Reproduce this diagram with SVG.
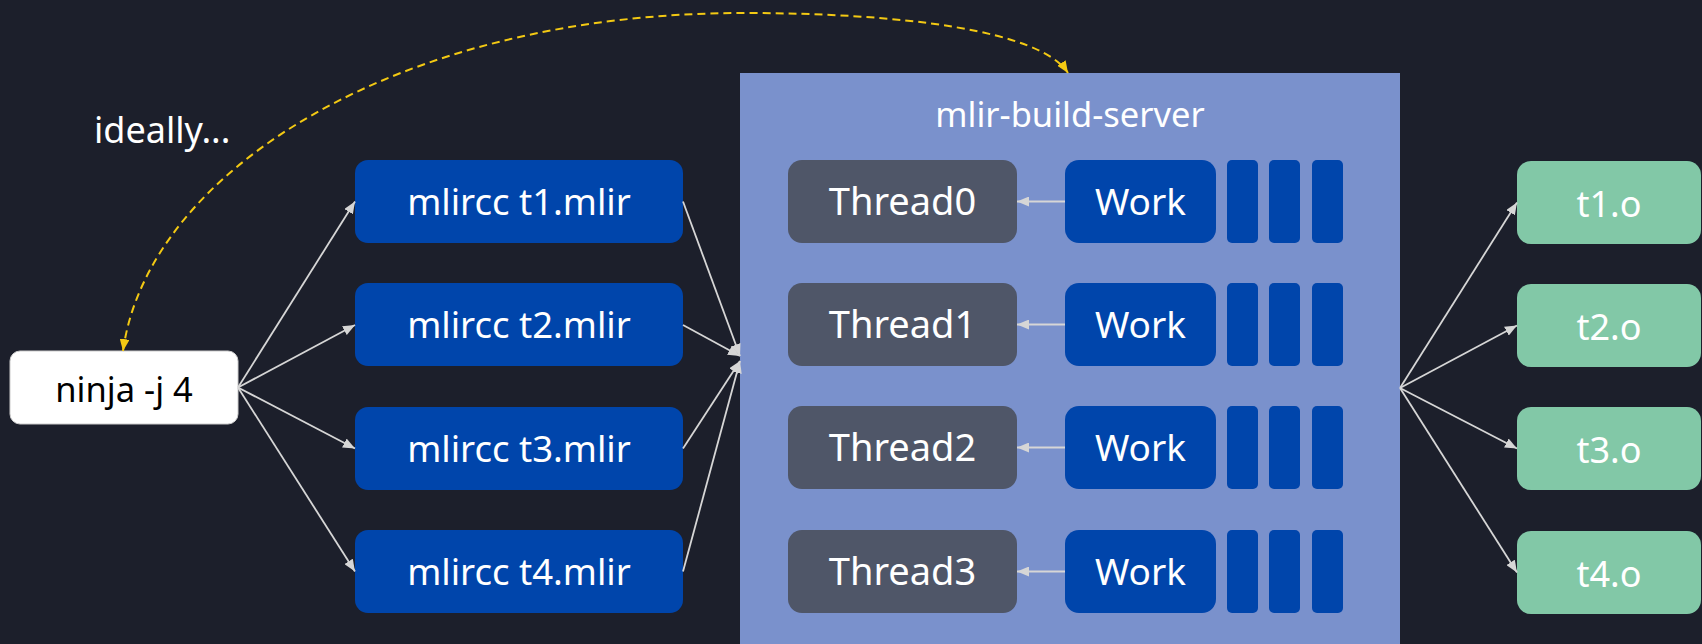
<svg xmlns="http://www.w3.org/2000/svg" width="1702" height="644" viewBox="0 0 1702 644">
<style>
text{font-family:"Noto Sans","Liberation Sans",sans-serif;fill:#ffffff;text-anchor:middle}
.blue{fill:#0045ab}
.thr{fill:#4f5668}
.grn{fill:#82c8a7}
.lnk{stroke:#d6d6d6;stroke-width:1.8;fill:none;marker-end:url(#ah)}
.dash{stroke:#f3c913;stroke-width:2;fill:none;stroke-dasharray:8 5;marker-start:url(#ay);marker-end:url(#ay)}
.m{font-size:36.5px}
.t{font-size:38px}
.w{font-size:37px}
.o{font-size:36px}
</style>
<defs>
<marker id="ah" viewBox="0 0 12 10" refX="12" refY="5" markerWidth="12" markerHeight="10" markerUnits="userSpaceOnUse" orient="auto"><path d="M0,0L12,5L0,10z" fill="#d6d6d6"/></marker>
<marker id="ay" viewBox="0 0 12 10" refX="12" refY="5" markerWidth="12" markerHeight="10" markerUnits="userSpaceOnUse" orient="auto-start-reverse"><path d="M0,0L12,5L0,10z" fill="#f3c913"/></marker>
</defs>
<rect width="1702" height="644" fill="#1c1f2b"/>
<g id="server">
<rect x="740" y="73" width="660" height="575" fill="#7a91cc"/>
<text x="1070" y="127" style="font-size:34.5px">mlir-build-server</text>
</g>
<text id="ideally" x="94" y="143" style="font-size:36px;text-anchor:start">ideally...</text>
<g id="ninja">
<rect x="10" y="351" width="228" height="73" rx="10" fill="#ffffff" stroke="#cccccc" stroke-width="1"/>
<text x="124" y="402" style="font-size:34.5px;fill:#000000">ninja -j 4</text>
</g>
<g id="mlircc1"><rect class="blue" x="355" y="160" width="328" height="83" rx="13"/><text class="m" x="519" y="215">mlircc t1.mlir</text></g>
<g id="mlircc2"><rect class="blue" x="355" y="283" width="328" height="83" rx="13"/><text class="m" x="519" y="338">mlircc t2.mlir</text></g>
<g id="mlircc3"><rect class="blue" x="355" y="407" width="328" height="83" rx="13"/><text class="m" x="519" y="462">mlircc t3.mlir</text></g>
<g id="mlircc4"><rect class="blue" x="355" y="530" width="328" height="83" rx="13"/><text class="m" x="519" y="585">mlircc t4.mlir</text></g>
<g id="thread0"><rect class="thr" x="788" y="160" width="229" height="83" rx="14"/><text class="t" x="902.5" y="215">Thread0</text></g>
<g id="thread1"><rect class="thr" x="788" y="283" width="229" height="83" rx="14"/><text class="t" x="902.5" y="338">Thread1</text></g>
<g id="thread2"><rect class="thr" x="788" y="406" width="229" height="83" rx="14"/><text class="t" x="902.5" y="461">Thread2</text></g>
<g id="thread3"><rect class="thr" x="788" y="530" width="229" height="83" rx="14"/><text class="t" x="902.5" y="585">Thread3</text></g>
<g id="work0"><rect class="blue" x="1065" y="160" width="151" height="83" rx="14"/><text class="w" x="1140.5" y="215">Work</text>
<rect class="blue" x="1227" y="160" width="31" height="83" rx="5"/><rect class="blue" x="1269" y="160" width="31" height="83" rx="5"/><rect class="blue" x="1312" y="160" width="31" height="83" rx="5"/></g>
<g id="work1"><rect class="blue" x="1065" y="283" width="151" height="83" rx="14"/><text class="w" x="1140.5" y="338">Work</text>
<rect class="blue" x="1227" y="283" width="31" height="83" rx="5"/><rect class="blue" x="1269" y="283" width="31" height="83" rx="5"/><rect class="blue" x="1312" y="283" width="31" height="83" rx="5"/></g>
<g id="work2"><rect class="blue" x="1065" y="406" width="151" height="83" rx="14"/><text class="w" x="1140.5" y="461">Work</text>
<rect class="blue" x="1227" y="406" width="31" height="83" rx="5"/><rect class="blue" x="1269" y="406" width="31" height="83" rx="5"/><rect class="blue" x="1312" y="406" width="31" height="83" rx="5"/></g>
<g id="work3"><rect class="blue" x="1065" y="530" width="151" height="83" rx="14"/><text class="w" x="1140.5" y="585">Work</text>
<rect class="blue" x="1227" y="530" width="31" height="83" rx="5"/><rect class="blue" x="1269" y="530" width="31" height="83" rx="5"/><rect class="blue" x="1312" y="530" width="31" height="83" rx="5"/></g>
<g id="out1"><rect class="grn" x="1517" y="161" width="184" height="83" rx="14"/><text class="o" x="1609" y="217">t1.o</text></g>
<g id="out2"><rect class="grn" x="1517" y="284" width="184" height="83" rx="14"/><text class="o" x="1609" y="340">t2.o</text></g>
<g id="out3"><rect class="grn" x="1517" y="407" width="184" height="83" rx="14"/><text class="o" x="1609" y="463">t3.o</text></g>
<g id="out4"><rect class="grn" x="1517" y="531" width="184" height="83" rx="14"/><text class="o" x="1609" y="587">t4.o</text></g>
<g id="connectors">
<path class="lnk" d="M238,387.5L355,201.5"/>
<path class="lnk" d="M238,387.5L355,325"/>
<path class="lnk" d="M238,387.5L355,448.5"/>
<path class="lnk" d="M238,387.5L355,571.5"/>
<path class="lnk" d="M683,201.5L740,356"/>
<path class="lnk" d="M683,325L740,356"/>
<path class="lnk" d="M683,448.5L740,361"/>
<path class="lnk" d="M683,571.5L740,361"/>
<path class="lnk" d="M1065,201.5L1017,201.5"/>
<path class="lnk" d="M1065,324.5L1017,324.5"/>
<path class="lnk" d="M1065,447.5L1017,447.5"/>
<path class="lnk" d="M1065,571.5L1017,571.5"/>
<path class="lnk" d="M1400,388L1517,202.5"/>
<path class="lnk" d="M1400,388L1517,325.5"/>
<path class="lnk" d="M1400,388L1517,448.5"/>
<path class="lnk" d="M1400,388L1517,572.5"/>
<path class="dash" d="M123,351C148,170 400,13 743,13C900,13 1040,30 1068,73"/>
</g>
</svg>
